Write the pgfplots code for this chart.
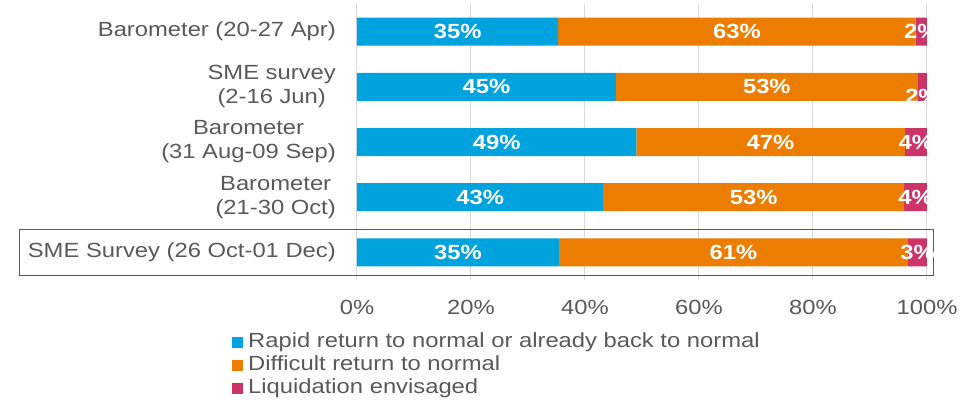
\documentclass[border=0pt]{standalone}
\usepackage{pgfplots}
\pgfplotsset{compat=1.18}
\usepackage{pgfplotstable}
\usepackage{fontspec}
\setmainfont{Liberation Sans}[FakeStretch=1.16]
\definecolor{cblue}{RGB}{0,163,221}
\definecolor{corange}{RGB}{237,125,0}
\definecolor{cred}{RGB}{204,51,102}
\definecolor{ctext}{RGB}{89,89,89}
\definecolor{cgrid}{RGB}{217,217,217}
\newcommand{\cf}{\fontsize{20.5}{24}\selectfont}
\pgfplotstableread{
y b o c
0 35.3 62.7 2.0
1 45.4 53.0 1.6
2 49.0 47.1 3.9
3 43.2 52.8 4.0
4 35.4 61.3 3.3
}\bars
\pgfplotstableread{
x y lab
17.65 0 35
66.65 0 63
99.0 0 2
22.7 1 45
71.9 1 53
99.2 1.18 2
24.5 2 49
72.55 2 47
98.05 2 4
21.6 3 43
69.6 3 53
98.0 3 4
17.7 4 35
66.05 4 61
98.35 4 3
}\labs
\begin{document}
\begin{tikzpicture}
\begin{axis}[name=ax,
  scale only axis, width=570pt, height=276pt,
  xbar stacked, bar width=28pt,
  xmin=0, xmax=100, ymin=-0.5, ymax=4.5, y dir=reverse,
  ytick={0,1,2,3,4},
  yticklabels={{Barometer (20-27 Apr)},{SME survey\\(2-16 Jun)},{Barometer\hspace{0.35em}\\(31 Aug-09 Sep)},{Barometer\hspace{0.35em}\\(21-30 Oct)},{SME Survey (26 Oct-01 Dec)}},
  yticklabel style={font=\cf, text=ctext, align=center, anchor=east, inner sep=0pt, xshift=-21pt},
  xtick={0,20,40,60,80,100},
  xticklabels={0\%,20\%,40\%,60\%,80\%,100\%},
  xticklabel style={font=\cf, text=ctext, inner sep=0pt, anchor=north, yshift=-20pt},
  /pgf/number format/assume math mode=true,
  xmajorgrids, grid style={cgrid, line width=1pt},
  axis line style={draw=none},
  major tick length=0pt, tick style={draw=none},
  clip=false,
  legend style={at={(-0.2193,-0.1866)}, anchor=north west, draw=none, fill=none,
    font=\cf, text=ctext, row sep=2pt, inner sep=0pt,
    nodes={inner sep=0pt, text height=16pt, text depth=5pt},
    /tikz/every odd column/.append style={column sep=5pt}},
  legend cell align=left,
  legend image code/.code={\fill[#1] (0pt,-5.5pt) rectangle (11pt,5.5pt);},
]
\addplot[fill=cblue, draw=none] table[x=b, y=y]{\bars};
\addplot[fill=corange, draw=none] table[x=o, y=y]{\bars};
\addplot[fill=cred, draw=none] table[x=c, y=y]{\bars};
\legend{Rapid return to normal or already back to normal, Difficult return to normal, Liquidation envisaged}
\draw[ctext, line width=0.8pt] (axis cs:-59.3,3.583) rectangle (axis cs:101.2,4.417);
\end{axis}
\begin{axis}[at={(ax.south west)}, anchor=south west,
  scale only axis, width=570pt, height=276pt,
  xmin=0, xmax=100, ymin=-0.5, ymax=4.5, y dir=reverse,
  hide axis, clip=false]
\addplot[draw=none, mark=none, nodes near coords={\pgfplotspointmeta\%},
  point meta=explicit symbolic,
  every node near coord/.append style={anchor=center, font=\cf\bfseries, text=white, inner sep=0pt}]
  table[x=x, y=y, meta=lab]{\labs};
\end{axis}
\path (ax.south west) ++(-357pt,280pt) coordinate (tl);
\path (ax.south west) ++(621pt,-123pt) coordinate (br);
\path (tl) rectangle (br);
\end{tikzpicture}
\end{document}
